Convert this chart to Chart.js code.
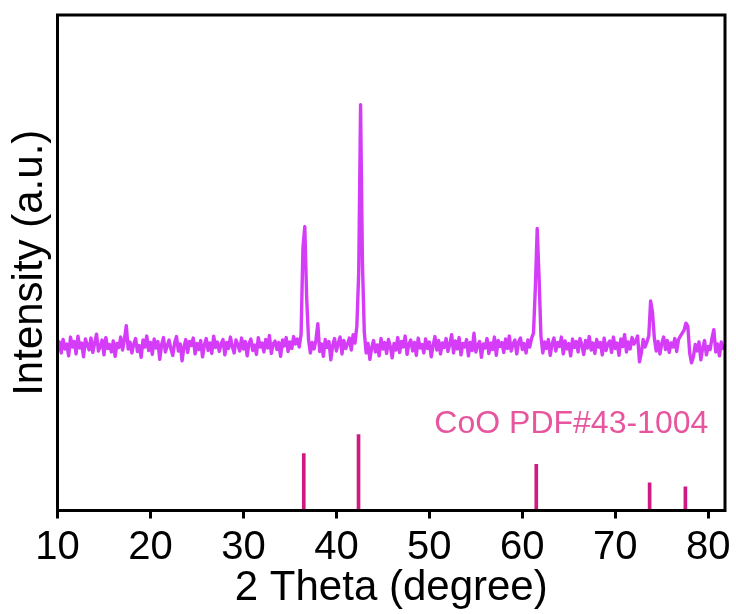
<!DOCTYPE html>
<html>
<head>
<meta charset="utf-8">
<script src="https://cdn.jsdelivr.net/npm/chart.js@4"></script>
<style>
html,body{margin:0;padding:0;background:#fff;}
canvas{display:block;}
</style>
</head>
<body>
<canvas id="c" width="736" height="614"></canvas>
<script>
// Scan grid of the measured pattern (2θ, degree)
const scanStart = 10.0;
const scanStep = 0.2;
// Measured intensity (a.u.), one value per scan step from 10.0° to 81.8°
const intensity = [
  322,340,318,345,326,336,312,350,330,341,
  316,352,328,338,310,346,334,324,348,319,
  338,356,322,331,344,314,349,327,335,320,
  342,311,337,329,350,324,345,373,326,340,
  318,336,347,321,333,309,344,330,352,323,
  339,315,346,328,341,305,335,349,320,332,
  344,326,313,338,351,322,336,302,330,345,
  319,341,333,348,316,337,325,343,310,334,
  347,323,338,317,352,329,340,321,336,345,
  314,339,327,350,331,318,344,335,322,348,
  326,341,312,337,346,323,334,315,349,330,
  338,320,345,328,353,317,336,342,325,339,
  311,344,332,349,321,340,327,351,336,346,
  330,355,530,573,430,345,318,339,326,344,
  377,321,336,311,345,329,341,304,333,347,
  322,338,350,316,343,327,336,348,324,355,
  338,372,480,819,500,360,318,337,305,329,
  343,320,334,312,347,326,339,317,345,331,
  308,337,324,349,319,341,330,352,315,336,
  344,322,339,313,348,328,335,318,346,327,
  340,310,333,351,324,343,316,338,329,347,
  321,336,355,318,342,326,349,314,337,330,
  345,312,339,323,358,320,334,341,309,336,
  328,347,317,338,325,350,313,343,331,339,
  319,346,327,352,322,336,344,316,340,348,
  325,337,318,344,330,348,358,450,569,470,
  352,318,340,327,345,313,336,348,322,339,
  331,350,316,342,326,337,312,346,329,341,
  320,347,334,315,343,328,351,324,338,317,
  345,330,339,314,348,323,336,342,319,350,
  327,338,313,346,331,355,320,340,326,349,
  336,342,352,300,318,345,330,340,352,423,
  400,348,322,341,316,337,350,325,343,319,
  338,330,347,321,345,352,358,364,378,372,
  318,298,310,335,322,340,304,328,343,314,
  331,325,348,365,320,336,312,340,327,333
];
// CoO PDF#43-1004 reference lines
const refPositions = [36.49, 42.38, 61.50, 73.69, 77.54];
const refIntensity = [115, 153, 93, 56, 48];
const xTicks = [10, 20, 30, 40, 50, 60, 70, 80];
const refLabel = 'CoO PDF#43-1004';

const patternPoints = intensity.map((v, i) => ({x: +(scanStart + i * scanStep).toFixed(2), y: v}));
const refPoints = refPositions.map((p, i) => ({x: p, y: refIntensity[i]}));

const FONT = '"Liberation Sans", Arial, sans-serif';

const framePlugin = {
  id: 'frame',
  afterDatasetsDraw(chart) {
    const {ctx, chartArea: a} = chart;
    ctx.save();
    ctx.strokeStyle = '#000';
    ctx.lineWidth = 3;
    ctx.strokeRect(a.left, a.top, a.right - a.left, a.bottom - a.top);
    ctx.fillStyle = '#E6559E';
    ctx.font = '32px ' + FONT;
    ctx.textAlign = 'right';
    ctx.textBaseline = 'alphabetic';
    const xs = chart.scales.x, ys = chart.scales.y;
    ctx.fillText(refLabel, xs.getPixelForValue(80), ys.getPixelForValue(156));
    ctx.restore();
  }
};

new Chart(document.getElementById('c'), {
  type: 'line',
  data: {
    datasets: [
      {
        type: 'line',
        data: patternPoints,
        borderColor: '#D43CF8',
        borderWidth: 3.4,
        pointRadius: 0,
        tension: 0,
        borderJoinStyle: 'round',
        order: 2
      },
      {
        type: 'bar',
        data: refPoints,
        backgroundColor: '#CF1A84',
        borderWidth: 0,
        barThickness: 3,
        order: 1
      }
    ]
  },
  options: {
    responsive: false,
    animation: false,
    devicePixelRatio: 1,
    layout: {padding: {top: 15, right: 11, left: 0, bottom: 0}},
    plugins: {legend: {display: false}, tooltip: {enabled: false}},
    scales: {
      x: {
        type: 'linear',
        min: 10,
        max: 81.8,
        offset: false,
        afterBuildTicks(scale) { scale.ticks = xTicks.map(v => ({value: v})); },
        afterFit(scale) { scale.height = 103.5; },
        border: {display: false},
        grid: {display: true, offset: false, drawOnChartArea: false, drawTicks: true, tickLength: 8, tickWidth: 3, tickColor: '#000', color: '#000'},
        ticks: {color: '#000', font: {family: FONT, size: 40}, padding: 5, maxRotation: 0, autoSkip: false},
        title: {display: true, text: '2 Theta (degree)', color: '#000', font: {family: FONT, size: 42}, padding: {top: 0, bottom: 0}}
      },
      y: {
        min: 0,
        max: 1000,
        afterFit(scale) { scale.width = 57.5; },
        border: {display: false},
        grid: {display: false},
        ticks: {display: false},
        title: {display: true, text: 'Intensity (a.u.)', color: '#000', font: {family: FONT, size: 42}, padding: {top: 5, bottom: 0}}
      }
    }
  },
  plugins: [framePlugin]
});
</script>
</body>
</html>
